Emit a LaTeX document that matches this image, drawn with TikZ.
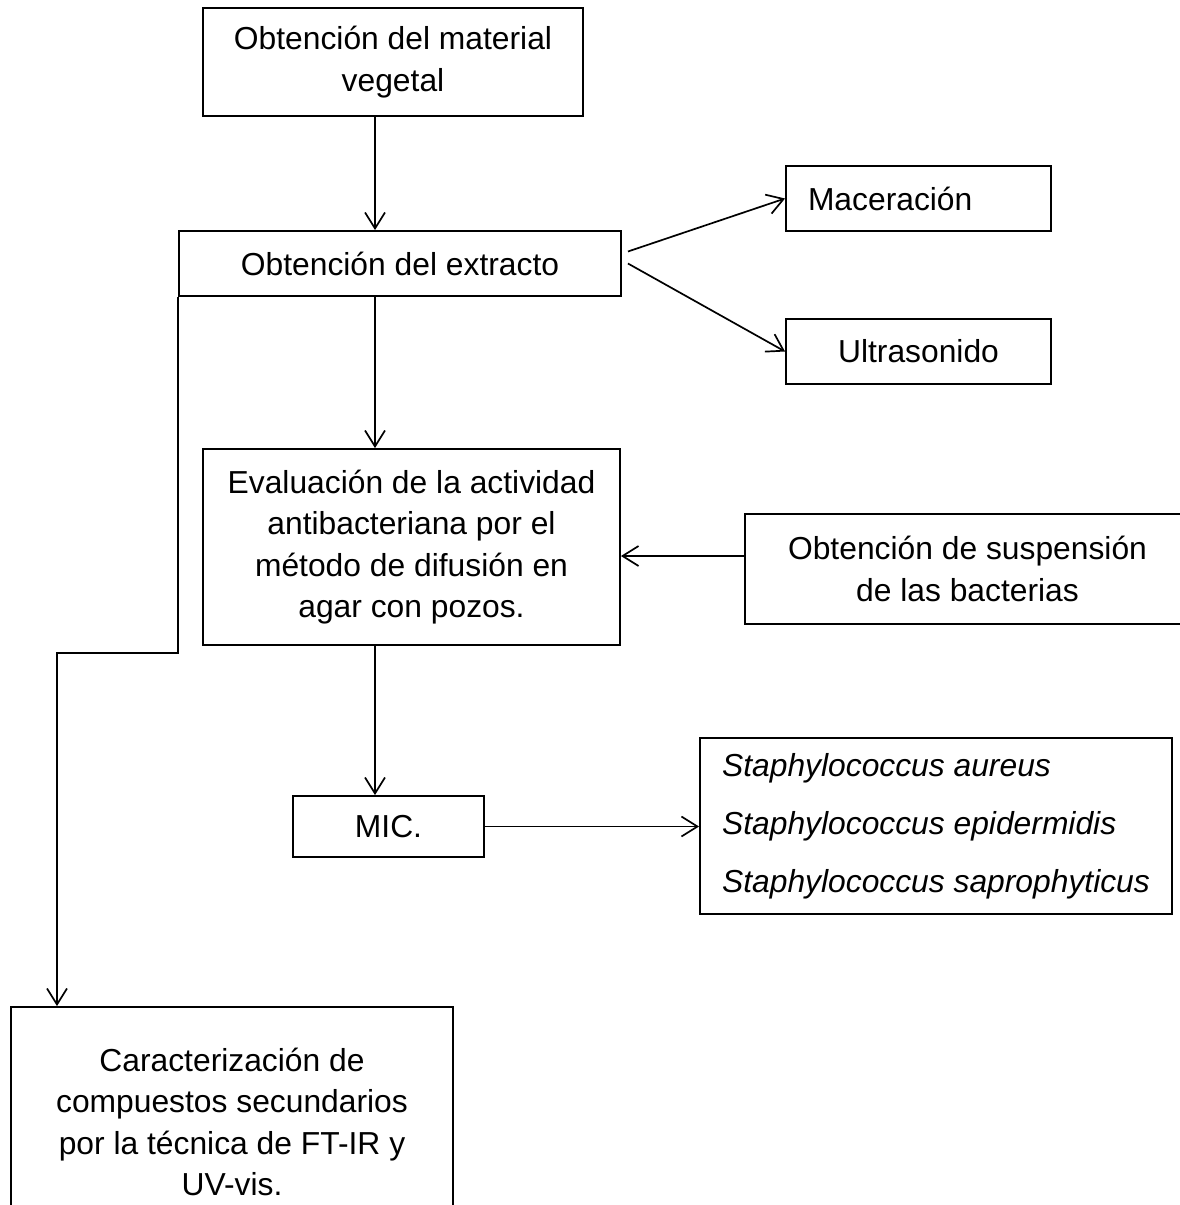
\documentclass[tikz,border=0pt]{standalone}
\usepackage{fontspec}
\setmainfont{Liberation Sans}
\usetikzlibrary{arrows.meta}
\tikzset{
	caja/.style={draw, line width=1.9pt, align=center, inner sep=0pt},
	flecha/.style={-{Straight Barb[length=16pt,width=20pt]}, line width=1.7pt}
}

\begin{document}
\begin{tikzpicture}[x=1pt,y=-1pt,font=\fontsize{31.8}{41.5}\selectfont]
		\useasboundingbox (0,0) rectangle (1179,1205);
		% cajas
		\node[caja, minimum width=380pt, minimum height=108pt] (mat) at (393,62) {Obtención del material\\vegetal};
		\node[caja, minimum width=442pt, minimum height=65pt] (ext) at (400,263.5) {Obtención del extracto};
		\node[caja, minimum width=265pt, minimum height=65pt, text width=221pt, align=left, inner xsep=22pt] (mac) at (918.5,198.5) {Maceración};
		\node[caja, minimum width=265pt, minimum height=65pt] (ult) at (918.5,351.5) {Ultrasonido};
		\node[caja, minimum width=417pt, minimum height=196pt] (eva) at (411.5,547) {Evaluación de la actividad\\antibacteriana por el\\método de difusión en\\agar con pozos.};
		\node[caja, minimum width=445pt, minimum height=110pt] (sus) at (967.5,569) {Obtención de suspensión\\de las bacterias};
		\node[caja, minimum width=191pt, minimum height=61pt] (mic) at (388.5,826.5) {MIC.};
		\node[caja, minimum width=472pt, minimum height=176pt, align=left, font=\fontsize{31.8}{41.5}\selectfont\itshape] (sta) at (936,826) {Staphylococcus aureus\\[16.5pt]Staphylococcus epidermidis\\[16.5pt]Staphylococcus saprophyticus};
		\node[caja, minimum width=442pt, minimum height=230pt] (car) at (232,1122) {Caracterización de\\compuestos secundarios\\por la técnica de FT-IR y\\UV-vis.};
		% eje de las flechas verticales
		\coordinate (eje) at (375,0);
		\coordinate (codo) at (57,653);
		% flechas
		\draw[flecha] (mat.south -| eje) -- (ext.north -| eje);
		\draw[flecha] ([xshift=6pt,yshift=12pt]ext.east) -- (mac.west);
		\draw[flecha] ([xshift=6pt]ext.east) -- (ult.west);
		\draw[flecha] (ext.south -| eje) -- (eva.north -| eje);
		\draw[flecha] ([yshift=13pt]sus.west) -- ([yshift=13pt]sus.west -| eva.east);
		\draw[flecha] (eva.south -| eje) -- (mic.north -| eje);
		\draw[flecha] (mic.east) -- (mic.east -| sta.west);
		\draw[flecha] (ext.south west) |- (codo) -- (codo |- car.north);
\end{tikzpicture}
\end{document}
